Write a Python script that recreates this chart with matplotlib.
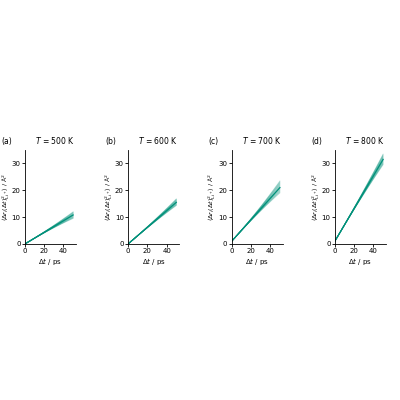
import numpy as np
import matplotlib.pyplot as plt

plt.rcParams['font.family'] = ['DejaVu Sans']
plt.rcParams['font.size'] = 5

labels = ["(a)", "(b)", "(c)", "(d)"]
temps = [500, 600, 700, 800]
# MSD at t=0 offset and at 50 ps: lower, mean, upper
msd0 = [0.0, 0.0, 1.0, 1.0]
msd50_lo = [9.5, 14.3, 19.0, 29.5]
msd50_mid = [10.8, 15.5, 21.0, 31.5]
msd50_hi = [12.0, 16.8, 23.5, 33.5]
t = np.linspace(0, 50, 60)
color = "#00917a"

fig = plt.figure(figsize=(4, 4), dpi=100)
lefts = [0.062, 0.32, 0.579, 0.837]
for i in range(4):
    ax = fig.add_axes([lefts[i], 0.39, 0.128, 0.235])
    mid = msd0[i] + (msd50_mid[i] - msd0[i]) * t / 50
    for f in np.linspace(0, 1, 25):
        end = msd50_lo[i] + f * (msd50_hi[i] - msd50_lo[i])
        # spread grows mostly at longer times
        y = mid + (end - msd50_mid[i]) * (t / 50) ** 2
        ax.plot(t, y, color=color, lw=0.6, alpha=0.18)
    ax.plot(t, mid, color=color, lw=0.9)
    ax.set_xlim(0, 53)
    ax.set_ylim(0, 35)
    ax.set_xticks([0, 20, 40])
    ax.set_yticks([0, 10, 20, 30])
    for s in ["top", "right"]:
        ax.spines[s].set_visible(False)
    for s in ["left", "bottom"]:
        ax.spines[s].set_linewidth(0.6)
    ax.tick_params(width=0.6, length=2, pad=1)
    ax.set_xlabel(r"$\Delta t$ / ps", labelpad=1)
    ax.set_ylabel(r"$\langle \Delta r_i(\Delta t)^2_{\mathrm{Li}^+} \rangle$ / Å$^2$",
                  labelpad=0, fontsize=4.6)
    ax.text(-0.45, 1.06, labels[i], transform=ax.transAxes, fontsize=5.5)
    ax.text(0.2, 1.06, rf"$T$ = {temps[i]} K", transform=ax.transAxes, fontsize=5.5)

fig.savefig("out.png", dpi=100)
